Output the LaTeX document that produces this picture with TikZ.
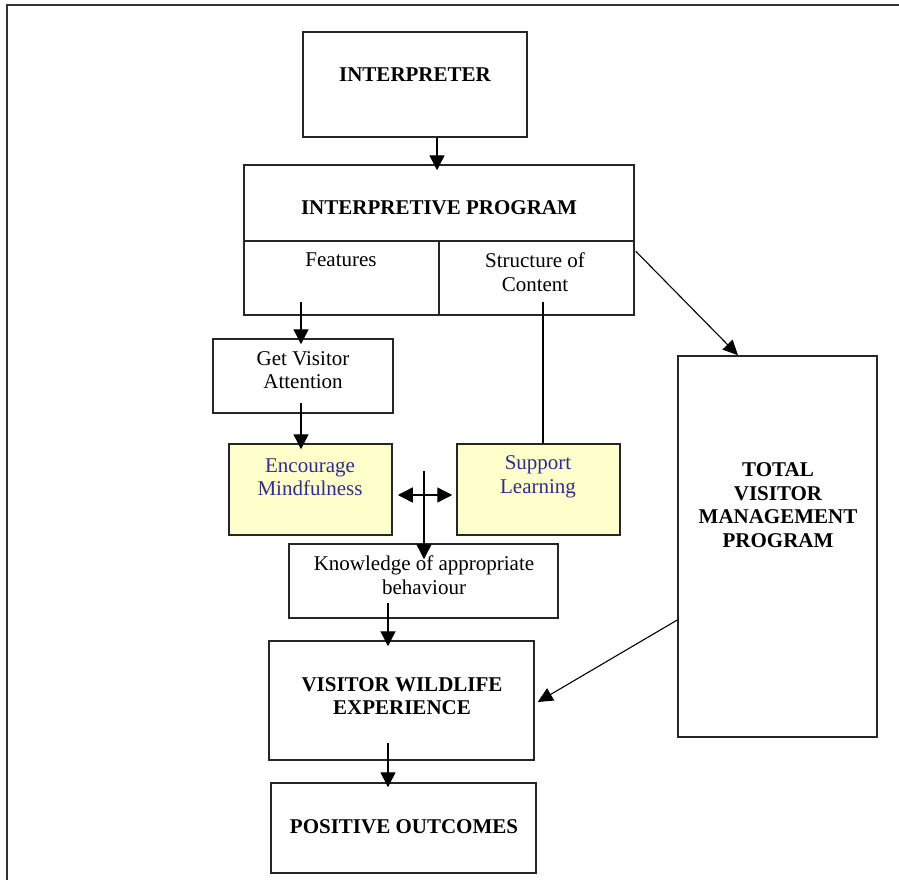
\documentclass[tikz,border=0pt]{standalone}
\usepackage{fontspec}
\setmainfont{Liberation Serif}
\usetikzlibrary{arrows.meta,calc}
\definecolor{boxyellow}{HTML}{FFFFCC}
\definecolor{textblue}{HTML}{2E2E8C}
\begin{document}
\begin{tikzpicture}[x=1pt,y=-1pt,
  box/.style={draw=black!85,line width=1.5pt,rectangle,inner sep=0pt},
  ybox/.style={box,fill=boxyellow},
  txt/.style={align=center,font=\fontsize{21}{23.5}\selectfont,inner sep=0pt},
  btxt/.style={align=center,font=\fontsize{21}{23.5}\selectfont\bfseries,inner sep=0pt},
  bluetxt/.style={txt,text=textblue},
  arr/.style={line width=1.4pt,-{Triangle[length=15pt,width=15pt]},shorten >=-6pt},
  thin arr/.style={line width=1.1pt,-{Triangle[length=15pt,width=14pt]}},
  darr/.style={line width=1.4pt,{Triangle[length=15pt,width=15pt]}-{Triangle[length=15pt,width=15pt]}}]
\useasboundingbox (0,0) rectangle (899,880);
\fill[white] (0,0) rectangle (899,880);
% outer frame (only left and top edges visible)
\draw[line width=1.5pt,black!80] (7,880) -- (7,5) -- (899,5);

% boxes
\node[box,minimum width=224pt,minimum height=105pt] (interp) at (415,84.5) {};
\node[box,minimum width=390pt,minimum height=150pt] (ip) at (439,240) {};
\node[box,minimum width=180pt,minimum height=74pt] (gva) at (303,376) {};
\node[ybox,minimum width=163pt,minimum height=91pt] (em) at (310.5,489.5) {};
\node[ybox,minimum width=163pt,minimum height=91pt] (sl) at (538.5,489.5) {};
\node[box,minimum width=269pt,minimum height=74pt] (know) at (423.5,581) {};
\node[box,minimum width=265pt,minimum height=119pt] (vwe) at (401.5,700.5) {};
\node[box,minimum width=265pt,minimum height=90pt] (po) at (403.5,828) {};
\node[box,minimum width=199pt,minimum height=381pt] (tvm) at (777.5,546.5) {};

% internal divisions of the interpretive program box
\draw[line width=1.5pt,black!85] (ip.west |- 0,241) -- (ip.east |- 0,241);
\draw[line width=1.5pt,black!85] (439,241) -- (ip.south);

% texts
\node[btxt] (tinterp) at (415,75) {INTERPRETER};
\node[btxt] (tip) at (439,208) {INTERPRETIVE PROGRAM};
\node[txt] (tfeat) at (341,260) {Features};
\node[txt] (tstruct) at (535,272) {Structure of\\Content};
\node[txt] (tgva) at (303,370) {Get Visitor\\Attention};
\node[bluetxt] (tem) at (310,477) {Encourage\\Mindfulness};
\node[bluetxt] (tsl) at (538,477) {Support\\Learning};
\node[txt] (tknow) at (424,575) {Knowledge of appropriate\\behaviour};
\node[btxt] (tvwe) at (402,696) {VISITOR WILDLIFE\\EXPERIENCE};
\node[btxt] (tpo) at (404,827) {POSITIVE OUTCOMES};
\node[btxt] (ttvm) at (778,505) {TOTAL\\VISITOR\\MANAGEMENT\\PROGRAM};

% connector start points
\coordinate (featout) at (301,302);
\coordinate (structout) at (543,302);
\coordinate (gvaout) at (301,403);
\coordinate (cross) at (424,471);
\coordinate (knowout) at (388,603);
\coordinate (vweout) at (388,743);

% connectors
\draw[arr] (interp.south -| 437,0) -- (ip.north -| 437,0);
\draw[arr] (featout) -- (gva.north -| featout);
\draw[arr] (gvaout) -- (em.north -| gvaout);
\draw[line width=1.4pt] (structout) -- (sl.north -| structout);
\draw[darr] ($(em.east)+(5,5.5)$) -- ($(sl.west)+(-4,5.5)$);
\draw[arr,shorten >=0pt] (cross) -- ($(know.north -| cross)+(0,16)$);
\draw[arr,shorten >=-6pt] (knowout) -- (vwe.north -| knowout);
\draw[arr,shorten >=-5pt] (vweout) -- (po.north -| vweout);
\draw[thin arr] ($(ip.north east)+(1,87)$) -- ($(tvm.north)+(-39.5,0)$);
\draw[thin arr] ($(tvm.west)+(0,73.5)$) -- ($(vwe.east)+(3,1.5)$);
\end{tikzpicture}
\end{document}
